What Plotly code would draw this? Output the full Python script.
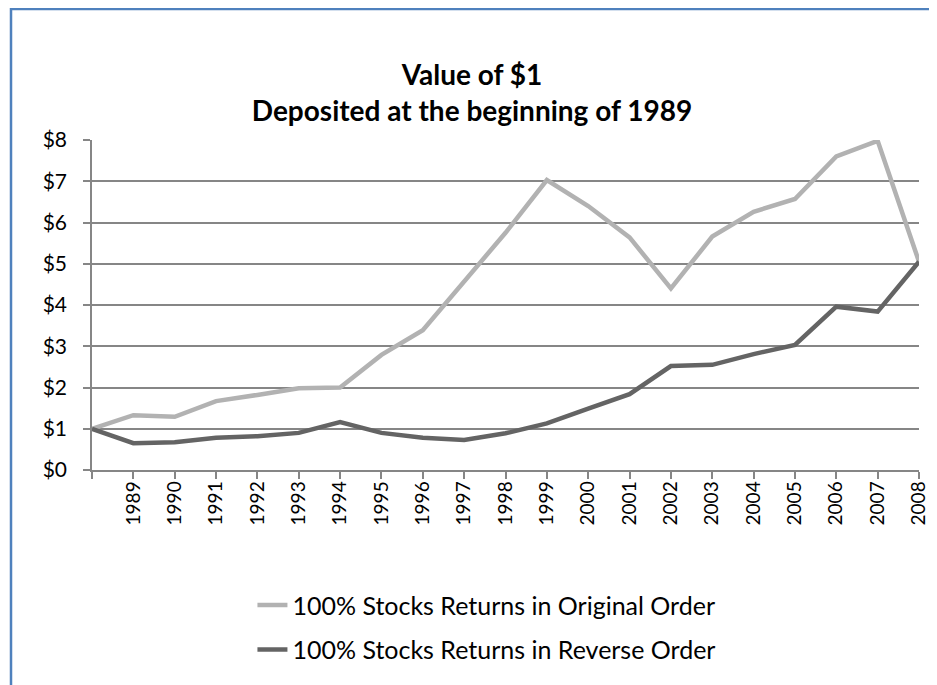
import plotly.graph_objects as go

# x positions: 0 is the starting point, then one per year
years = ["", "1989", "1990", "1991", "1992", "1993", "1994", "1995", "1996", "1997",
         "1998", "1999", "2000", "2001", "2002", "2003", "2004", "2005", "2006",
         "2007", "2008"]

original_order = [1.00, 1.33, 1.29, 1.67, 1.82, 1.98, 2.00, 2.79, 3.39, 4.55,
                  5.75, 7.03, 6.40, 5.64, 4.40, 5.66, 6.26, 6.57, 7.60, 7.98, 5.05]

reverse_order = [1.00, 0.65, 0.67, 0.78, 0.82, 0.90, 1.16, 0.90, 0.78, 0.73,
                 0.89, 1.13, 1.49, 1.84, 2.52, 2.55, 2.81, 3.03, 3.96, 3.84, 5.05]

y_ticks = [0, 1, 2, 3, 4, 5, 6, 7, 8]
y_labels = ["$" + str(v) for v in y_ticks]

font = "Lato, 'Open Sans', sans-serif"
xs = list(range(len(years)))

fig = go.Figure()
fig.add_trace(go.Scatter(x=xs, y=original_order, mode="lines",
                         name="100% Stocks Returns in Original Order",
                         line=dict(color="#b2b2b2", width=4.5),
                         legendgroup="a"))
fig.add_trace(go.Scatter(x=xs, y=reverse_order, mode="lines",
                         name="100% Stocks Returns in Reverse Order",
                         line=dict(color="#646464", width=4.5),
                         legendgroup="b"))

# page is drawn ~8px in from the window edge, so margins are shifted to suit
fig.update_layout(
    width=937, height=685,
    margin=dict(l=84, r=26, t=132, b=223),
    paper_bgcolor="white", plot_bgcolor="white",
    font=dict(family=font, size=17, color="black"),
    title=dict(text="<b>Value of $1<br>Deposited at the beginning of 1989</b>",
               x=464 / 937, xanchor="center", y=1 - 77 / 685, yanchor="top",
               font=dict(family=font, size=28, color="black")),
    showlegend=True,
    legend=dict(x=0.194, xanchor="left", y=-0.34, yanchor="top",
                orientation="v", traceorder="grouped", tracegroupgap=9,
                font=dict(family=font, size=25, color="black"),
                bgcolor="rgba(0,0,0,0)"),
    shapes=[dict(type="rect", xref="paper", yref="paper",
                 x0=(3 - 84) / 827, x1=1.2, y0=-1.0, y1=1 + (132 - 1) / 330,
                 line=dict(color="#4f81bd", width=2.5), layer="below")],
)

fig.update_xaxes(
    range=[0, 20], tickvals=xs, ticktext=years, tickangle=-90,
    showgrid=False, zeroline=False,
    showline=True, linecolor="#868686", linewidth=1.5,
    ticks="outside", ticklen=7, tickcolor="#868686", tickwidth=1.5,
    ticklabelstandoff=-5,
    tickfont=dict(family=font, size=19, color="black"),
)
fig.update_yaxes(
    range=[0, 8], tickvals=y_ticks, ticktext=y_labels,
    showgrid=True, gridcolor="#868686", gridwidth=1.5, zeroline=False,
    showline=True, linecolor="#868686", linewidth=1.5,
    ticks="outside", ticklen=7, tickcolor="#868686", tickwidth=1.5,
    ticklabelstandoff=12,
    tickfont=dict(family=font, size=21, color="black"),
)

fig.write_html("out.html")
